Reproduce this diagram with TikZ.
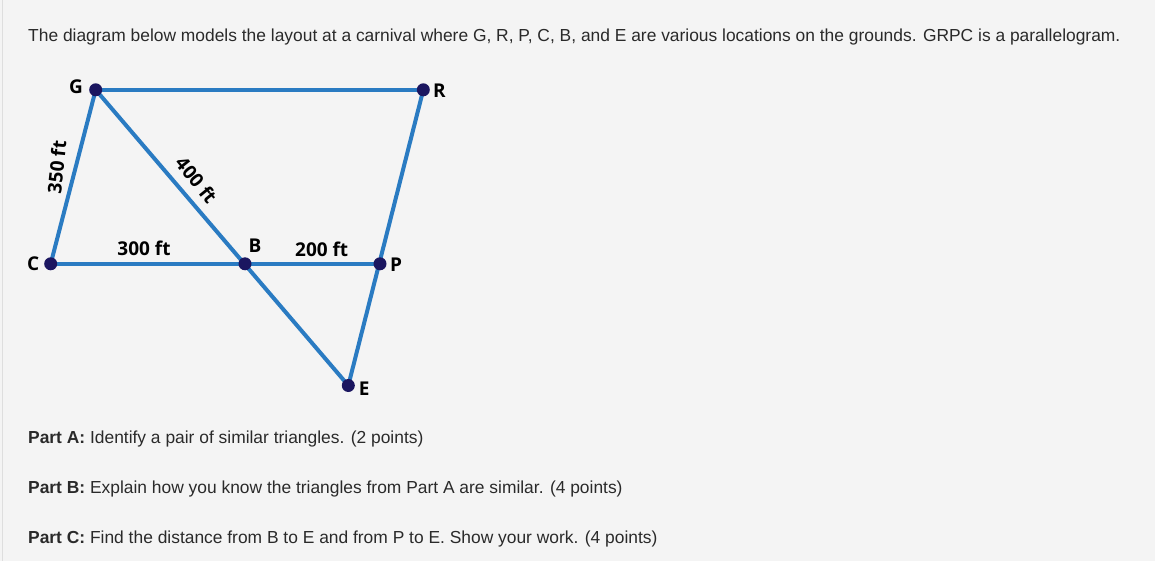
\documentclass[tikz,border=0pt]{standalone}
\usepackage{fontspec}
\setmainfont{Liberation Sans}
\newfontfamily\labfont{Open Sans}
\definecolor{bg}{HTML}{F4F4F4}
\definecolor{edge}{HTML}{2A7BC2}
\definecolor{dotc}{HTML}{1B1660}
\definecolor{txt}{HTML}{2A2A2A}
\begin{document}
\begin{tikzpicture}[x=1pt,y=-1pt,
  seg/.style={draw=edge,line width=4pt},
  pt/.style={circle,fill=dotc,inner sep=0pt,minimum size=13pt},
  lab/.style={font=\labfont\bfseries\fontsize{19}{19}\selectfont,text=black,inner sep=0pt},
  body/.style={font=\fontsize{17.4}{19}\selectfont,text=txt,anchor=west,inner sep=0pt}]
\fill[bg] (0,0) rectangle (1155,560);
\draw[draw=black!13,line width=1pt] (2.5,0) -- (2.5,560);
\useasboundingbox (0,0) rectangle (1155,560);
% points
\coordinate (G) at (95.7,89.3);
\coordinate (R) at (423.3,89.3);
\coordinate (C) at (50.7,263.3);
\coordinate (B) at (245,263.3);
\coordinate (P) at (380,263.3);
\coordinate (E) at (348.3,385);
\draw[seg] (G) -- (R);
\draw[seg] (G) -- (C);
\draw[seg] (C) -- (P);
\draw[seg] (G) -- (E);
\draw[seg] (R) -- (E);
\foreach \p in {G,R,C,B,P,E} \node[pt] (n\p) at (\p) {};
% point labels
\node[lab] (lG) at (76,86.7) {G};
\node[lab] (lR) at (439.3,90) {R};
\node[lab] (lC) at (33.3,263) {C};
\node[lab] (lB) at (255,245) {B};
\node[lab] (lP) at (396,264) {P};
\node[lab] (lE) at (364.3,388.3) {E};
% length labels
\node[lab,rotate=84] (l350) at (56.7,166.7) {350 ft};
\node[lab,rotate=-51] (l400) at (196.5,179.5) {400 ft};
\node[lab] (l300) at (144,248.3) {300 ft};
\node[lab] (l200) at (321.7,249.3) {200 ft};
% text
\node[body] (t0) at (28,37) {The diagram below models the layout at a carnival where G, R, P, C, B, and E are various locations on the grounds. GRPC is a parallelogram.};
\node[body] (tA) at (28,438) {\textbf{Part A:} Identify a pair of similar triangles. (2 points)};
\node[body] (tB) at (28,488) {\textbf{Part B:} Explain how you know the triangles from Part A are similar. (4 points)};
\node[body] (tC) at (28,538) {\textbf{Part C:} Find the distance from B to E and from P to E. Show your work. (4 points)};
\end{tikzpicture}
\end{document}
